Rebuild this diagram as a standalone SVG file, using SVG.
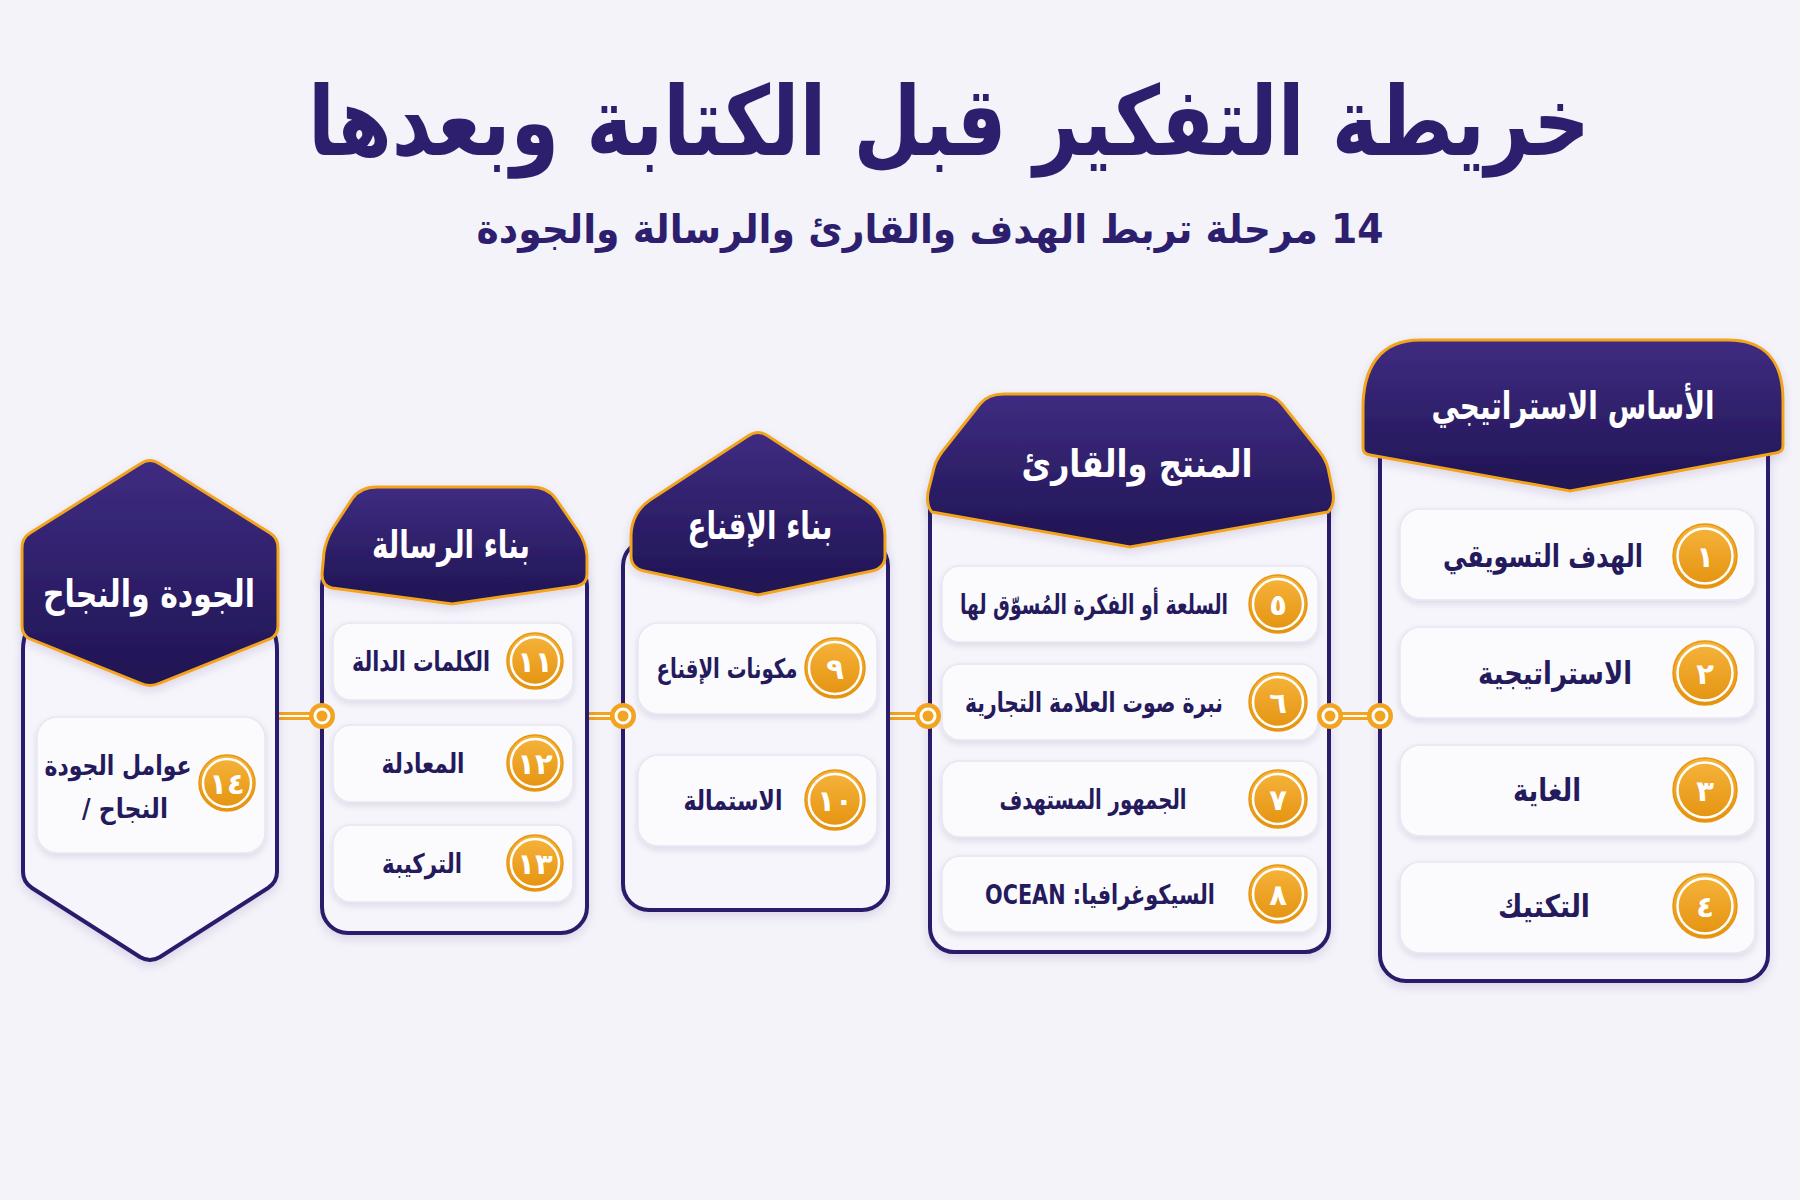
<svg xmlns="http://www.w3.org/2000/svg" width="1800" height="1200" viewBox="0 0 1800 1200">
<defs>
  <linearGradient id="hdr" x1="0" y1="0" x2="0" y2="1">
    <stop offset="0" stop-color="#3f2c82"/>
    <stop offset="1" stop-color="#1f1452"/>
  </linearGradient>
  <linearGradient id="num" x1="0" y1="0" x2="0" y2="1">
    <stop offset="0" stop-color="#f6b43c"/>
    <stop offset="1" stop-color="#e4920f"/>
  </linearGradient>
  <filter id="sh" x="-20%" y="-20%" width="140%" height="150%">
    <feDropShadow dx="0" dy="4" stdDeviation="5" flood-color="#2a1c6a" flood-opacity="0.13"/>
  </filter>
  <filter id="shs" x="-20%" y="-30%" width="140%" height="170%">
    <feDropShadow dx="0" dy="3" stdDeviation="3" flood-color="#2a1c6a" flood-opacity="0.12"/>
  </filter>
</defs>
<style>
  text { font-family: 'DejaVu Sans', 'Noto Sans', sans-serif; font-weight: bold; }
  .title { fill: #2d1f6e; font-size: 96px; }
  .sub { fill: #2d1f6e; font-size: 40px; }
  .hdr { fill: url(#hdr); stroke: #f2a51f; stroke-width: 3; filter: url(#sh); }
  .hdrt { fill: #ffffff; font-size: 38px; }
  .body { fill: #f6f5fb; stroke: #2a1b6a; stroke-width: 4; filter: url(#sh); }
  .item { fill: #fbfbfe; stroke: #e7e6f1; stroke-width: 1.5; filter: url(#shs); }
  .lbl1 { fill: #241a5c; font-size: 31px; }
  .lbl { fill: #241a5c; font-size: 27px; }
  .lbl2 { fill: #241a5c; font-size: 27px; }
  .nc { fill: url(#num); stroke: #e8960f; stroke-width: 1.5; }
  .nr { fill: none; stroke: #ffffff; stroke-width: 2.5; }
  .nt { fill: #ffffff; font-size: 29px; }
  .cl { stroke: #f2a31f; stroke-width: 8; }
  .cw { stroke: #ffffff; stroke-width: 2.2; }
  .co { fill: #f2a31f; }
  .ci { fill: #ffffff; }
</style>
<rect x="0" y="0" width="1800" height="1200" fill="#f4f3f9"/>

<text class="title" x="949" y="155" text-anchor="middle" textLength="1282" lengthAdjust="spacingAndGlyphs">خريطة التفكير قبل الكتابة وبعدها</text>
<text class="sub" x="930" y="243" text-anchor="middle" direction="rtl" textLength="907" lengthAdjust="spacingAndGlyphs">14 مرحلة تربط الهدف والقارئ والرسالة والجودة</text>

<!-- Connectors -->
<g id="connectors">
  <line class="cl" x1="1330" y1="716" x2="1380" y2="716"/>
  <line class="cw" x1="1330" y1="716" x2="1380" y2="716"/>
  <line class="cl" x1="888" y1="716" x2="928" y2="716"/>
  <line class="cw" x1="888" y1="716" x2="928" y2="716"/>
  <line class="cl" x1="587" y1="716" x2="623" y2="716"/>
  <line class="cw" x1="587" y1="716" x2="623" y2="716"/>
  <line class="cl" x1="277" y1="716" x2="322" y2="716"/>
  <line class="cw" x1="277" y1="716" x2="322" y2="716"/>
</g>

<!-- Panel 1 -->
<g id="panel1">
  <rect class="body" x="1380" y="430" width="388" height="551" rx="26"/>
  <path class="hdr" d="M 1363 448 L 1363 408 C 1363 370 1378 340 1420 340 L 1728 340 C 1768 340 1783 365 1783 400 L 1783 446 Q 1783 452 1776 453 L 1570 491 L 1370 455 Q 1363 454 1363 448 Z"/>
  <text class="hdrt" x="1573" y="419" text-anchor="middle" textLength="283" lengthAdjust="spacingAndGlyphs">الأساس الاستراتيجي</text>
  <g id="n1">
    <rect class="item" x="1400" y="509" width="355" height="91" rx="20"/>
    <circle class="nc" cx="1705" cy="556" r="32"/><circle class="nr" cx="1705" cy="556" r="27.5"/>
    <text class="nt" x="1705" y="567" text-anchor="middle">١</text>
    <text class="lbl1" x="1543" y="567" text-anchor="middle" textLength="200" lengthAdjust="spacingAndGlyphs">الهدف التسويقي</text>
  </g>
  <g id="n2">
    <rect class="item" x="1400" y="627" width="355" height="91" rx="20"/>
    <circle class="nc" cx="1705" cy="673" r="32"/><circle class="nr" cx="1705" cy="673" r="27.5"/>
    <text class="nt" x="1705" y="684" text-anchor="middle">٢</text>
    <text class="lbl1" x="1555" y="684" text-anchor="middle" textLength="154" lengthAdjust="spacingAndGlyphs">الاستراتيجية</text>
  </g>
  <g id="n3">
    <rect class="item" x="1400" y="745" width="355" height="91" rx="20"/>
    <circle class="nc" cx="1705" cy="790" r="32"/><circle class="nr" cx="1705" cy="790" r="27.5"/>
    <text class="nt" x="1705" y="801" text-anchor="middle">٣</text>
    <text class="lbl1" x="1547" y="801" text-anchor="middle" textLength="68" lengthAdjust="spacingAndGlyphs">الغاية</text>
  </g>
  <g id="n4">
    <rect class="item" x="1400" y="862" width="355" height="91" rx="20"/>
    <circle class="nc" cx="1705" cy="906" r="32"/><circle class="nr" cx="1705" cy="906" r="27.5"/>
    <text class="nt" x="1705" y="917" text-anchor="middle">٤</text>
    <text class="lbl1" x="1544" y="917" text-anchor="middle" textLength="92" lengthAdjust="spacingAndGlyphs">التكتيك</text>
  </g>
</g>

<!-- Panel 2 -->
<g id="panel2">
  <rect class="body" x="930" y="480" width="399" height="472" rx="24"/>
  <path class="hdr" d="M 932 512 Q 926 506 928 492 L 934 468 Q 936 460 942 452 L 980 404 Q 988 394 1004 394 L 1258 394 Q 1274 394 1282 404 L 1320 452 Q 1326 460 1328 468 L 1333 492 Q 1335 506 1328 512 L 1130 547 Z"/>
  <text class="hdrt" x="1137" y="477" text-anchor="middle" textLength="231" lengthAdjust="spacingAndGlyphs">المنتج والقارئ</text>
  <g id="n5">
    <rect class="item" x="942" y="566" width="376" height="76" rx="18"/>
    <circle class="nc" cx="1278" cy="604" r="29"/><circle class="nr" cx="1278" cy="604" r="25"/>
    <text class="nt" x="1278" y="615" text-anchor="middle">٥</text>
    <text class="lbl2" x="1094" y="614" text-anchor="middle" textLength="268" lengthAdjust="spacingAndGlyphs">السلعة أو الفكرة المُسوّق لها</text>
  </g>
  <g id="n6">
    <rect class="item" x="942" y="664" width="376" height="76" rx="18"/>
    <circle class="nc" cx="1278" cy="702" r="29"/><circle class="nr" cx="1278" cy="702" r="25"/>
    <text class="nt" x="1278" y="713" text-anchor="middle">٦</text>
    <text class="lbl2" x="1094" y="712" text-anchor="middle" textLength="258" lengthAdjust="spacingAndGlyphs">نبرة صوت العلامة التجارية</text>
  </g>
  <g id="n7">
    <rect class="item" x="942" y="761" width="376" height="76" rx="18"/>
    <circle class="nc" cx="1278" cy="799" r="29"/><circle class="nr" cx="1278" cy="799" r="25"/>
    <text class="nt" x="1278" y="810" text-anchor="middle">٧</text>
    <text class="lbl2" x="1093" y="809" text-anchor="middle" textLength="187" lengthAdjust="spacingAndGlyphs">الجمهور المستهدف</text>
  </g>
  <g id="n8">
    <rect class="item" x="942" y="856" width="376" height="76" rx="18"/>
    <circle class="nc" cx="1278" cy="894" r="29"/><circle class="nr" cx="1278" cy="894" r="25"/>
    <text class="nt" x="1278" y="905" text-anchor="middle">٨</text>
    <text class="lbl2" x="1100" y="904" text-anchor="middle" direction="rtl" textLength="230" lengthAdjust="spacingAndGlyphs">السيكوغرافيا: OCEAN</text>
  </g>
</g>

<!-- Panel 3 -->
<g id="panel3">
  <rect class="body" x="623" y="540" width="265" height="370" rx="26"/>
  <path class="hdr" d="M 748 436 Q 758 429 768 436 L 866 500 Q 884 512 885 535 L 885 556 Q 885 568 872 571 L 758 595 L 644 571 Q 631 568 631 556 L 631 535 Q 632 512 650 500 Z"/>
  <text class="hdrt" x="760" y="539" text-anchor="middle" textLength="145" lengthAdjust="spacingAndGlyphs">بناء الإقناع</text>
  <g id="n9">
    <rect class="item" x="638" y="623" width="239" height="91" rx="20"/>
    <circle class="nc" cx="835" cy="668" r="30"/><circle class="nr" cx="835" cy="668" r="26"/>
    <text class="nt" x="835" y="679" text-anchor="middle">٩</text>
    <text class="lbl" x="727" y="678" text-anchor="middle" textLength="141" lengthAdjust="spacingAndGlyphs">مكونات الإقناع</text>
  </g>
  <g id="n10">
    <rect class="item" x="638" y="755" width="239" height="91" rx="20"/>
    <circle class="nc" cx="835" cy="800" r="30"/><circle class="nr" cx="835" cy="800" r="26"/>
    <text class="nt" x="835" y="811" text-anchor="middle">١٠</text>
    <text class="lbl" x="733" y="810" text-anchor="middle" textLength="99" lengthAdjust="spacingAndGlyphs">الاستمالة</text>
  </g>
</g>

<!-- Panel 4 -->
<g id="panel4">
  <rect class="body" x="322" y="560" width="265" height="373" rx="26"/>
  <path class="hdr" d="M 322 574 L 324 552 Q 326 540 333 528 L 352 499 Q 360 487 377 487 L 531 487 Q 548 487 556 499 L 578 531 Q 586 543 587 556 L 587 574 Q 587 584 577 586 L 452 604 L 332 588 Q 322 586 322 574 Z"/>
  <text class="hdrt" x="451" y="558" text-anchor="middle" textLength="158" lengthAdjust="spacingAndGlyphs">بناء الرسالة</text>
  <g id="n11">
    <rect class="item" x="333" y="623" width="240" height="77" rx="18"/>
    <circle class="nc" cx="535" cy="661" r="28"/><circle class="nr" cx="535" cy="661" r="24"/>
    <text class="nt" x="535" y="672" text-anchor="middle">١١</text>
    <text class="lbl" x="421" y="671" text-anchor="middle" textLength="138" lengthAdjust="spacingAndGlyphs">الكلمات الدالة</text>
  </g>
  <g id="n12">
    <rect class="item" x="333" y="725" width="240" height="77" rx="18"/>
    <circle class="nc" cx="535" cy="763" r="28"/><circle class="nr" cx="535" cy="763" r="24"/>
    <text class="nt" x="535" y="774" text-anchor="middle">١٢</text>
    <text class="lbl" x="423" y="773" text-anchor="middle" textLength="83" lengthAdjust="spacingAndGlyphs">المعادلة</text>
  </g>
  <g id="n13">
    <rect class="item" x="333" y="825" width="240" height="77" rx="18"/>
    <circle class="nc" cx="535" cy="863" r="28"/><circle class="nr" cx="535" cy="863" r="24"/>
    <text class="nt" x="535" y="874" text-anchor="middle">١٣</text>
    <text class="lbl" x="422" y="873" text-anchor="middle" textLength="80" lengthAdjust="spacingAndGlyphs">التركيبة</text>
  </g>
</g>

<!-- Panel 5 -->
<g id="panel5">
  <path class="body" d="M 40 622 Q 23 626 23 650 L 23 872 Q 23 882 32 888 L 140 957 Q 150 963 160 957 L 268 888 Q 277 882 277 872 L 277 650 Q 277 626 260 622 Z"/>
  <path class="hdr" d="M 140 464 Q 150 457 160 464 L 270 533 Q 278 538 278 548 L 278 626 Q 278 635 270 639 L 160 683 Q 150 688 140 683 L 30 639 Q 22 635 22 626 L 22 548 Q 22 538 30 533 Z"/>
  <text class="hdrt" x="149" y="607" text-anchor="middle" textLength="212" lengthAdjust="spacingAndGlyphs">الجودة والنجاح</text>
  <g id="n14">
    <rect class="item" x="37" y="717" width="228" height="136" rx="20"/>
    <circle class="nc" cx="227" cy="783" r="28"/><circle class="nr" cx="227" cy="783" r="24"/>
    <text class="nt" x="227" y="794" text-anchor="middle">١٤</text>
    <text class="lbl" x="118" y="775" text-anchor="middle" textLength="147" lengthAdjust="spacingAndGlyphs">عوامل الجودة</text>
    <text class="lbl" x="125" y="818" text-anchor="middle" direction="ltr" textLength="86" lengthAdjust="spacingAndGlyphs">/ النجاح</text>
  </g>
</g>

<!-- connector rings -->
<g id="rings">
  <circle class="co" cx="1330" cy="716" r="13"/><circle class="ci" cx="1330" cy="716" r="8.5"/><circle class="co" cx="1330" cy="716" r="5.5"/>
  <circle class="co" cx="1380" cy="716" r="13"/><circle class="ci" cx="1380" cy="716" r="8.5"/><circle class="co" cx="1380" cy="716" r="5.5"/>
  <circle class="co" cx="928" cy="716" r="13"/><circle class="ci" cx="928" cy="716" r="8.5"/><circle class="co" cx="928" cy="716" r="5.5"/>
  <circle class="co" cx="623" cy="716" r="13"/><circle class="ci" cx="623" cy="716" r="8.5"/><circle class="co" cx="623" cy="716" r="5.5"/>
  <circle class="co" cx="322" cy="716" r="13"/><circle class="ci" cx="322" cy="716" r="8.5"/><circle class="co" cx="322" cy="716" r="5.5"/>
</g>
</svg>
